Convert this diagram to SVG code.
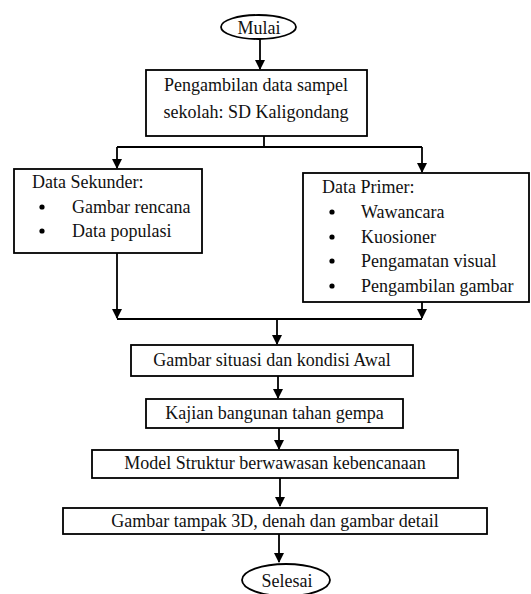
<svg xmlns="http://www.w3.org/2000/svg" width="531" height="594" viewBox="0 0 531 594">
<style>
.box{fill:#fff;stroke:#000;stroke-width:1.8}
.ln{fill:none;stroke:#000;stroke-width:1.8}
.t{font-family:"Liberation Serif","Times New Roman",serif;font-size:18px;fill:#111}
.c{text-anchor:middle}
</style>
<defs>
<marker id="ah" markerWidth="10" markerHeight="10" refX="9" refY="5" orient="auto" markerUnits="userSpaceOnUse">
<path d="M0,0 L10,5 L0,10 Z" fill="#000"/>
</marker>
</defs>
<rect width="531" height="594" fill="#fff"/>
<g id="connectors">
<line class="ln" x1="260" y1="39" x2="260" y2="69" marker-end="url(#ah)"/>
<line class="ln" x1="264" y1="136" x2="264" y2="147"/>
<line class="ln" x1="117" y1="147" x2="422" y2="147"/>
<line class="ln" x1="117" y1="147" x2="117" y2="168" marker-end="url(#ah)"/>
<line class="ln" x1="422" y1="147" x2="422" y2="172" marker-end="url(#ah)"/>
<line class="ln" x1="117" y1="253" x2="117" y2="318" marker-end="url(#ah)"/>
<line class="ln" x1="422" y1="302" x2="422" y2="318" marker-end="url(#ah)"/>
<line class="ln" x1="117" y1="319" x2="422" y2="319"/>
<line class="ln" x1="277" y1="319" x2="277" y2="344" marker-end="url(#ah)"/>
<line class="ln" x1="278" y1="376" x2="278" y2="398" marker-end="url(#ah)"/>
<line class="ln" x1="279" y1="428" x2="279" y2="449" marker-end="url(#ah)"/>
<line class="ln" x1="280" y1="478" x2="280" y2="506" marker-end="url(#ah)"/>
<line class="ln" x1="279" y1="534" x2="279" y2="562" marker-end="url(#ah)"/>
</g>
<g id="mulai">
<ellipse class="box" cx="258.5" cy="27" rx="37.5" ry="12"/>
<text class="t c" x="259" y="34">Mulai</text>
</g>
<g id="pengambilan">
<rect class="box" x="146" y="70" width="221" height="66"/>
<text class="t c" x="256" y="91">Pengambilan data sampel</text>
<text class="t c" x="256" y="118">sekolah: SD Kaligondang</text>
</g>
<g id="sekunder">
<rect class="box" x="14" y="169" width="188" height="84"/>
<text class="t" x="32" y="188">Data Sekunder:</text>
<circle cx="42" cy="207" r="2.6"/>
<text class="t" x="72" y="213">Gambar rencana</text>
<circle cx="42" cy="231" r="2.6"/>
<text class="t" x="72" y="237">Data populasi</text>
</g>
<g id="primer">
<rect class="box" x="303" y="173" width="226" height="129"/>
<text class="t" x="322" y="193">Data Primer:</text>
<circle cx="332" cy="212" r="2.6"/>
<text class="t" x="361" y="218">Wawancara</text>
<circle cx="332" cy="237" r="2.6"/>
<text class="t" x="361" y="243">Kuosioner</text>
<circle cx="332" cy="261" r="2.6"/>
<text class="t" x="361" y="267">Pengamatan visual</text>
<circle cx="332" cy="286" r="2.6"/>
<text class="t" x="361" y="292">Pengambilan gambar</text>
</g>
<g id="situasi">
<rect class="box" x="131" y="345" width="282" height="31"/>
<text class="t c" x="272" y="366">Gambar situasi dan kondisi Awal</text>
</g>
<g id="kajian">
<rect class="box" x="146" y="399" width="257" height="29"/>
<text class="t c" x="274.5" y="419">Kajian bangunan tahan gempa</text>
</g>
<g id="model">
<rect class="box" x="92" y="450" width="366" height="28"/>
<text class="t c" x="275" y="469">Model Struktur berwawasan kebencanaan</text>
</g>
<g id="gambar3d">
<rect class="box" x="63" y="508" width="424" height="26"/>
<text class="t c" x="275" y="527">Gambar tampak 3D, denah dan gambar detail</text>
</g>
<g id="selesai">
<ellipse class="box" cx="286" cy="580" rx="44" ry="16"/>
<text class="t c" x="287" y="587">Selesai</text>
</g>
</svg>
